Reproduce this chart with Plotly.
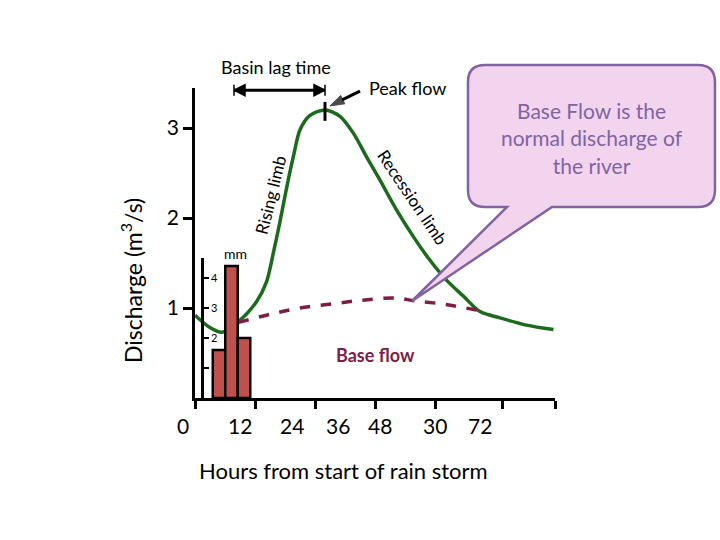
import plotly.graph_objects as go

# ---------------- data ----------------
hyd_hours = [0, 2.8, 5.4, 8.7, 12.3, 14.3, 15.7, 17.0, 18.3, 19.7, 21.0, 23.0, 26.0,
             29.0, 31.7, 34.3, 37.0, 40.3, 43.7, 47.0, 50.3, 53.7, 57.0, 61.0, 66.3, 71.7]
hyd_flow = [0.92, 0.79, 0.73, 0.85, 1.07, 1.29, 1.62, 1.96, 2.33, 2.69, 2.98, 3.14, 3.20,
            3.13, 2.94, 2.68, 2.42, 2.09, 1.79, 1.53, 1.31, 1.13, 0.96, 0.89, 0.81, 0.76]

base_hours = [8.7, 15.0, 21.0, 28.0, 34.0, 40.0, 44.0, 50.0, 57.0]
base_flow = [0.84, 0.93, 1.00, 1.05, 1.09, 1.11, 1.08, 1.04, 0.97]

rain_hours = [4.8, 7.3, 9.8]
rain_mm = [1.6, 4.4, 2.0]

x_tick_vals = [0, 12, 24, 36, 48, 61.4, 72]
x_tick_labels = ["0", "12", "24", "36", "48", "30", "72"]
x_label_hours = [-2.4, 9, 19.4, 28.6, 37, 48, 57]

y_tick_vals = [1, 2, 3]
rain_tick_vals = [1, 2, 3, 4]
rain_tick_labels = ["", "2", "3", "4"]

peak_hour = 26.0
peak_flow = 3.20
lag_start_hour = 7.8

# ---------------- styles ----------------
FONT = "Lato"
GREEN = "#1C6A1C"
MAROON = "#7E1E46"
BAR = "#C0504D"
PURPLE = "#8064A2"
PINK = "#F2D4EE"

L, R, T, B = 195, 165, 88, 142
W, H = 720, 540
PW, PH = W - L - R, H - T - B
X_RANGE = [0, 72]
Y_RANGE = [0, 310 / 90]


def px(xp, yp):
    return (xp - L) / PW, (H - B - yp) / PH


def hour_to_paper(h):
    return (h - X_RANGE[0]) / (X_RANGE[1] - X_RANGE[0])


fig = go.Figure()

fig.add_trace(go.Scatter(x=hyd_hours, y=hyd_flow, mode="lines",
                         line=dict(color=GREEN, width=3.5, shape="spline", smoothing=0.8),
                         hoverinfo="skip", showlegend=False))
fig.add_trace(go.Scatter(x=base_hours, y=base_flow, mode="lines",
                         line=dict(color=MAROON, width=3.5, dash="dash", shape="spline"),
                         hoverinfo="skip", showlegend=False))
# peak tick
fig.add_trace(go.Scatter(x=[peak_hour, peak_hour], y=[peak_flow - 0.12, peak_flow + 0.09],
                         mode="lines", line=dict(color="black", width=3),
                         hoverinfo="skip", showlegend=False, cliponaxis=False))
# peak flow pointer
fig.add_trace(go.Scatter(x=[33.0, peak_hour + 1.0], y=[3.41, peak_flow + 0.045],
                         mode="lines+markers", line=dict(color="black", width=3),
                         marker=dict(symbol=["circle", "arrow"], size=[0, 15], angleref="previous",
                                     color="black", line=dict(color="black", width=1)),
                         hoverinfo="skip", showlegend=False, cliponaxis=False))
# basin lag time double arrow
fig.add_trace(go.Scatter(x=[lag_start_hour, peak_hour], y=[3.42, 3.42], mode="lines+markers",
                         line=dict(color="black", width=3),
                         marker=dict(symbol=["arrow-bar-left", "arrow-bar-right"], size=11,
                                     color="black", line=dict(color="black", width=1.5)),
                         hoverinfo="skip", showlegend=False, cliponaxis=False))
fig.add_trace(go.Bar(x=rain_hours, y=rain_mm, width=2.5, xaxis="x", yaxis="y2",
                     marker=dict(color=BAR, line=dict(color="black", width=2.5)),
                     hoverinfo="skip", showlegend=False))

# callout shape (paper coordinates)
l_, r_, t_, b_, rd = 468, 715, 65, 207, 17


def P(xp, yp):
    a, b = px(xp, yp)
    return f"{a:.4f},{b:.4f}"


path = (f"M {P(l_+rd, t_)} L {P(r_-rd, t_)} Q {P(r_, t_)} {P(r_, t_+rd)} "
        f"L {P(r_, b_-rd)} Q {P(r_, b_)} {P(r_-rd, b_)} "
        f"L {P(552, b_)} L {P(412, 301)} L {P(507, b_)} "
        f"L {P(l_+rd, b_)} Q {P(l_, b_)} {P(l_, b_-rd)} "
        f"L {P(l_, t_+rd)} Q {P(l_, t_)} {P(l_+rd, t_)} Z")
fig.add_shape(type="path", path=path, xref="paper", yref="paper",
              fillcolor=PINK, line=dict(color=PURPLE, width=2.5), layer="above")

ann = []


def label(xp, yp, text, size, color="black", angle=0):
    a, b = px(xp, yp)
    ann.append(dict(x=a, y=b, xref="paper", yref="paper", text=text, showarrow=False,
                    textangle=angle, xanchor="center", yanchor="middle", align="center",
                    font=dict(size=size, color=color)))


# x tick labels
for lab, hx in zip(x_tick_labels, x_label_hours):
    ann.append(dict(x=hour_to_paper(hx), y=px(0, 425)[1], xref="paper", yref="paper",
                    text=lab, showarrow=False, font=dict(size=21, color="black"),
                    xanchor="center", yanchor="middle"))

label(343, 471, "Hours from start of rain storm", 22)
label(131, 281, "Discharge (m<sup>3</sup>/s)", 23, angle=-90)
label(235, 254, "mm", 14)
label(270, 195, "Rising limb", 17, angle=-76)
label(413, 197, "Recession limb", 17, angle=56)
label(375, 355, "<b>Base flow</b>", 18, color=MAROON)
label(592, 138, "Base Flow is the<br>normal discharge of<br>the river", 21, color=PURPLE)
label(276, 67, "Basin lag time", 18)
label(407, 88, "Peak flow", 18)

fig.update_layout(
    width=W, height=H,
    margin=dict(l=L, r=R, t=T, b=B, pad=0),
    paper_bgcolor="white", plot_bgcolor="rgba(0,0,0,0)",
    font=dict(family=FONT, color="black"),
    showlegend=False,
    annotations=ann,
    xaxis=dict(range=X_RANGE, showgrid=False, zeroline=False, showline=True,
               linecolor="black", linewidth=2.5, ticks="outside", ticklen=8, tickwidth=2.5,
               tickcolor="black", tickvals=x_tick_vals, showticklabels=False, fixedrange=True),
    yaxis=dict(range=Y_RANGE, showgrid=False, zeroline=False, showline=True,
               linecolor="black", linewidth=2.5, ticks="outside", ticklen=9, tickwidth=2.5,
               tickcolor="black", tickvals=y_tick_vals, tickfont=dict(size=21),
               fixedrange=True),
    yaxis2=dict(domain=[0, 140 / 310], range=[0, 140 / 30], anchor="free",
                position=7 / PW, side="right", showgrid=False, zeroline=False,
                showline=True, linecolor="black", linewidth=2.5, ticks="outside",
                ticklen=5, tickwidth=2, tickcolor="black", tickvals=rain_tick_vals,
                ticktext=rain_tick_labels, tickfont=dict(size=11), fixedrange=True),
)

fig.write_html("out.html", config={"displayModeBar": False},
               post_script="document.body.style.margin='0';")
